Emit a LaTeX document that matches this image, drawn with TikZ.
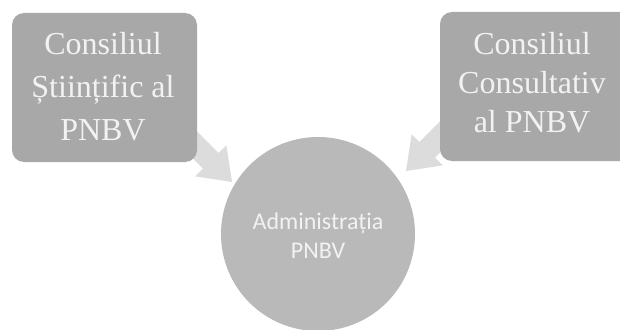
\documentclass[tikz,border=0pt]{standalone}
\usepackage{fontspec}
\setmainfont{Liberation Serif}
\newfontfamily\circfont{Carlito}
\definecolor{boxgray}{HTML}{A8A8A8}
\definecolor{circgray}{HTML}{B9B9B9}
\definecolor{arrgray}{HTML}{DCDCDC}
\definecolor{txtwhite}{HTML}{F2F2F2}
\tikzset{
  council/.style={rectangle, rounded corners=12pt, fill=boxgray, draw=none},
  counciltext/.style={text=txtwhite, align=center, inner sep=0pt},
  admin/.style={circle, fill=circgray, draw=none, minimum size=194pt, inner sep=0pt},
  admintext/.style={text=txtwhite, align=center, inner sep=0pt, font=\circfont\fontsize{24}{29}\selectfont},
  blockarrow/.style={fill=arrgray, draw=none}
}
\begin{document}
\begin{tikzpicture}[x=1pt,y=-1pt]
\useasboundingbox (0,0) rectangle (620,329);
\clip (0,0) rectangle (620,329);
\fill[white] (0,0) rectangle (620,329);
% arrows (drawn first, boxes cover their tails)
\coordinate (tipL) at (232,182);
\coordinate (tipR) at (406,171);
\begin{scope}[shift={(tipL)}, rotate=-45]
  \fill[blockarrow] (0,0) -- (-30,22) -- (-30,11) -- (-60,11) -- (-60,-11) -- (-30,-11) -- (-30,-22) -- cycle;
\end{scope}
\begin{scope}[shift={(tipR)}, rotate=-135]
  \fill[blockarrow] (0,0) -- (-30,22) -- (-30,11) -- (-60,11) -- (-60,-11) -- (-30,-11) -- (-30,-22) -- cycle;
\end{scope}
% boxes
\path[council] (12,13) rectangle (197,162);
\path[council] (440,12) rectangle (634,161);
\node[counciltext, font=\fontsize{32}{43}\selectfont] (cs) at (103,87) {Consiliul\\Științific al\\PNBV};
\node[counciltext, font=\fontsize{32}{39}\selectfont] (cc) at (532,83) {Consiliul\\Consultativ\\al PNBV};
% circle
\node[admin] (adm) at (318,234) {};
\node[admintext] (admt) at (318,236) {Administrația\\PNBV};
\end{tikzpicture}
\end{document}
